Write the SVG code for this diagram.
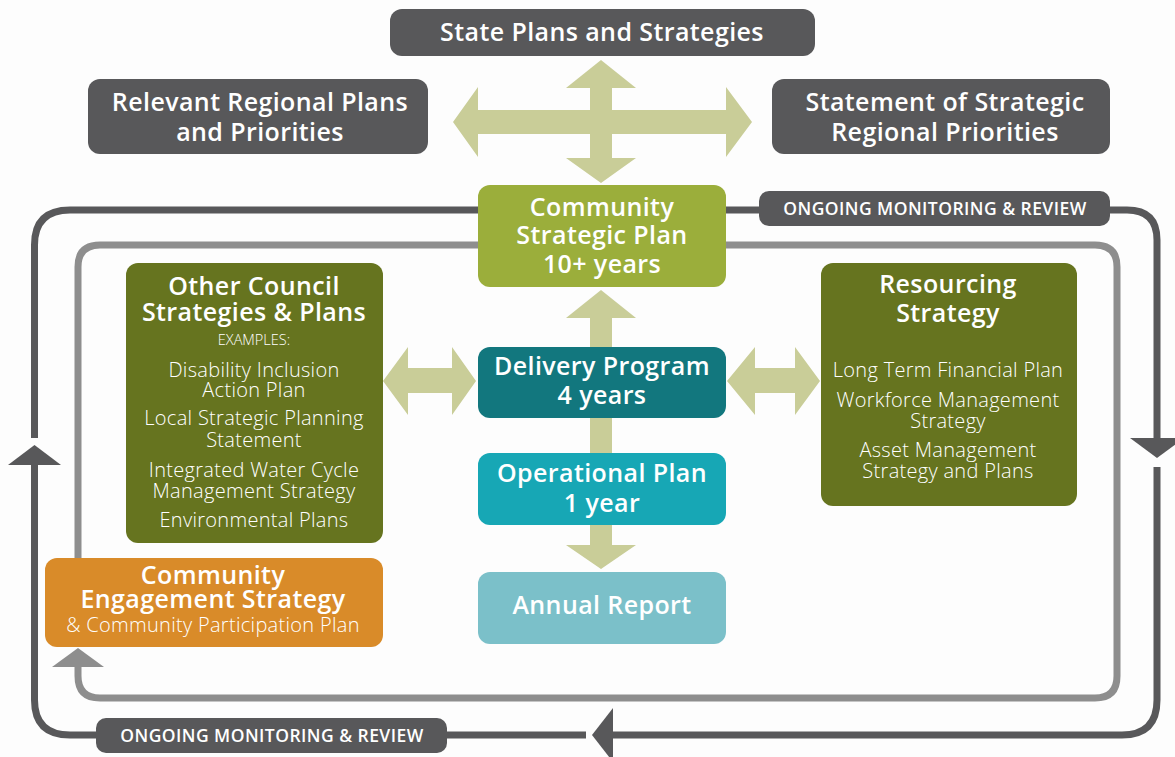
<svg xmlns="http://www.w3.org/2000/svg" width="1175" height="757" viewBox="0 0 1175 757">
<defs>
<style>
.bg{fill:#fdfdfd}
.dark{fill:#58585a}
.t{font-family:"Open Sans","Liberation Sans",sans-serif;fill:#ffffff;text-anchor:middle}
.h{font-weight:600;font-size:25px;letter-spacing:0.4px}
.l{font-weight:300;font-size:20px;letter-spacing:0.3px}
.lab{font-weight:600;font-size:17.5px;letter-spacing:0.45px}
.arr{fill:#c9cd98}
.loopd{fill:none;stroke:#58585a;stroke-width:7}
.loopg{fill:none;stroke:#8e8e8e;stroke-width:7}
</style>
</defs>
<rect class="bg" x="0" y="0" width="1175" height="757"/>

<g id="connectors">
  <path class="loopg" d="M478,245 L100,245 Q78,245 78,267 L78,620"/>
  <path class="loopg" d="M726,245 L1095,245 Q1117,245 1117,267 L1117,676 Q1117,698 1095,698 L100,698 Q78,698 78,676 L78,666"/>
  <polygon fill="#8e8e8e" points="52,667 104,667 78,648"/>
  <path class="loopd" d="M478,210 L70,210 Q34.5,210 34.5,245 L34.5,438"/>
  <path class="loopd" d="M34.5,464 L34.5,700 Q34.5,735 70,735 L586,735"/>
  <path class="loopd" d="M612,735 L1122,735 Q1157,735 1157,700 L1157,467"/>
  <path class="loopd" d="M726,210 L1127,210 Q1157,210 1157,240 L1157,439"/>
  <polygon class="dark" points="8,465 61,465 34.5,445"/>
  <polygon class="dark" points="1130,438 1184,438 1157,458"/>
  <polygon class="dark" points="613,708 613,762 592,735"/>
  <path class="arr" d="M453,122 L478,87 L478,110 L590,110 L590,88 L566,88 L601,60 L636,88 L612,88 L612,110 L726,110 L726,87 L752,122 L726,157 L726,134 L612,134 L612,158 L636,158 L601,183 L566,158 L590,158 L590,134 L478,134 L478,157 Z"/>
  <path class="arr" d="M601,290 L636,318 L612,318 L612,545 L636,545 L601,569 L566,545 L590,545 L590,318 L566,318 Z"/>
  <path class="arr" d="M383,381 L408,347 L408,368 L452,368 L452,347 L476,381 L452,415 L452,393 L408,393 L408,415 Z"/>
  <path class="arr" d="M727,381 L755,347 L755,368 L795,368 L795,347 L820,381 L795,415 L795,393 L755,393 L755,415 Z"/>
</g>

<g id="state">
  <rect class="dark" x="390" y="9" width="425" height="47" rx="12"/>
  <text class="t h" x="602" y="41">State Plans and Strategies</text>
</g>
<g id="regional">
  <rect class="dark" x="88" y="79" width="340" height="75" rx="12"/>
  <text class="t h"><tspan x="260" y="111">Relevant Regional Plans</tspan><tspan x="260" y="141">and Priorities</tspan></text>
</g>
<g id="statement">
  <rect class="dark" x="772" y="79" width="338" height="75" rx="12"/>
  <text class="t h"><tspan x="945" y="111">Statement of Strategic</tspan><tspan x="945" y="141">Regional Priorities</tspan></text>
</g>
<g id="csp">
  <rect fill="#9bae3b" x="478" y="185" width="248" height="102" rx="12"/>
  <text class="t h"><tspan x="602" y="216">Community</tspan><tspan x="602" y="244">Strategic Plan</tspan><tspan x="602" y="273">10+ years</tspan></text>
</g>
<g id="monitor-top">
  <rect class="dark" x="759" y="191" width="351" height="35" rx="10"/>
  <text class="t lab" x="935" y="215">ONGOING MONITORING &amp; REVIEW</text>
</g>
<g id="other">
  <rect fill="#66741f" x="126" y="263" width="257" height="280" rx="12"/>
  <text class="t h"><tspan x="254" y="295">Other Council</tspan><tspan x="254" y="321">Strategies &amp; Plans</tspan></text>
  <text class="t" style="font-weight:300;font-size:14.5px" x="254" y="345">EXAMPLES:</text>
  <text class="t l"><tspan x="254" y="377">Disability Inclusion</tspan><tspan x="254" y="397">Action Plan</tspan></text>
  <text class="t l"><tspan x="254" y="425">Local Strategic Planning</tspan><tspan x="254" y="447">Statement</tspan></text>
  <text class="t l"><tspan x="254" y="477">Integrated Water Cycle</tspan><tspan x="254" y="498">Management Strategy</tspan></text>
  <text class="t l" x="254" y="527">Environmental Plans</text>
</g>
<g id="delivery">
  <rect fill="#12777e" x="478" y="347" width="248" height="71" rx="12"/>
  <text class="t h"><tspan x="602" y="375">Delivery Program</tspan><tspan x="602" y="404">4 years</tspan></text>
</g>
<g id="resourcing">
  <rect fill="#66741f" x="821" y="263" width="256" height="243" rx="12"/>
  <text class="t h"><tspan x="948" y="293">Resourcing</tspan><tspan x="948" y="322">Strategy</tspan></text>
  <text class="t l" x="948" y="377">Long Term Financial Plan</text>
  <text class="t l"><tspan x="948" y="407">Workforce Management</tspan><tspan x="948" y="428">Strategy</tspan></text>
  <text class="t l"><tspan x="948" y="457">Asset Management</tspan><tspan x="948" y="478">Strategy and Plans</tspan></text>
</g>
<g id="operational">
  <rect fill="#17a7b5" x="478" y="453" width="248" height="72" rx="12"/>
  <text class="t h"><tspan x="602" y="482">Operational Plan</tspan><tspan x="602" y="512">1 year</tspan></text>
</g>
<g id="annual">
  <rect fill="#7bc0c9" x="478" y="572" width="248" height="72" rx="12"/>
  <text class="t h" x="602" y="614">Annual Report</text>
</g>
<g id="engagement">
  <rect fill="#d98b29" x="45" y="558" width="338" height="89" rx="12"/>
  <text class="t h"><tspan x="213" y="584">Community</tspan><tspan x="213" y="608">Engagement Strategy</tspan></text>
  <text class="t l" x="213" y="632">&amp; Community Participation Plan</text>
</g>
<g id="monitor-bottom">
  <rect class="dark" x="96" y="718" width="351" height="35" rx="10"/>
  <text class="t lab" x="272" y="742">ONGOING MONITORING &amp; REVIEW</text>
</g>
</svg>
